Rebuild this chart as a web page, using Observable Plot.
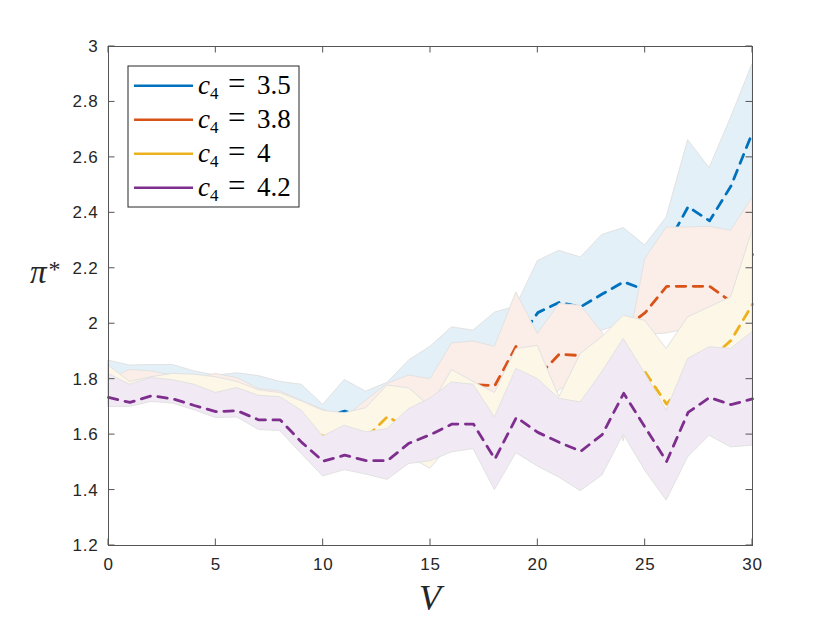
<!DOCTYPE html>
<html><head><meta charset="utf-8">
<script src="https://cdn.jsdelivr.net/npm/d3@7"></script>
<script src="https://cdn.jsdelivr.net/npm/@observablehq/plot@0.6"></script>
<style>body{margin:0;background:#fff}</style>
</head><body><div id="chart"></div>
<script>
// ---- data ----
const V = [0,1,2,3,4,5,6,7,8,9,10,11,12,13,14,15,16,17,18,19,20,21,22,23,24,25,26,27,28,29,30];

const blueMean = [1.80,1.79,1.79,1.78,1.77,1.76,1.76,1.72,1.72,1.68,1.66,1.685,1.66,1.70,1.74,1.75,1.82,1.83,1.84,1.93,2.04,2.077,2.061,2.107,2.151,2.122,2.28,2.422,2.371,2.497,2.69];
const blueLow  = [1.72,1.71,1.72,1.72,1.70,1.68,1.68,1.64,1.64,1.58,1.52,1.52,1.52,1.52,1.56,1.58,1.64,1.66,1.58,1.72,1.75,1.90,1.95,1.975,2.00,2.05,2.10,2.15,2.15,2.20,2.30];
const blueHigh = [1.867,1.849,1.851,1.851,1.828,1.813,1.821,1.811,1.790,1.780,1.707,1.797,1.755,1.787,1.867,1.917,1.987,1.975,2.040,2.062,2.226,2.263,2.239,2.320,2.345,2.282,2.383,2.662,2.561,2.743,2.936];

const redMean = [1.78,1.76,1.77,1.76,1.75,1.72,1.73,1.70,1.69,1.65,1.60,1.62,1.63,1.66,1.68,1.70,1.74,1.78,1.777,1.92,1.81,1.89,1.885,1.93,1.98,2.04,2.135,2.135,2.135,2.08,2.25];
const redLow  = [1.72,1.71,1.73,1.72,1.70,1.67,1.67,1.63,1.63,1.56,1.50,1.50,1.50,1.49,1.53,1.55,1.60,1.62,1.50,1.70,1.65,1.76,1.80,1.85,1.575,1.96,1.965,1.98,1.99,1.95,2.05];
const redHigh = [1.80,1.833,1.828,1.813,1.80,1.819,1.804,1.765,1.756,1.722,1.69,1.66,1.722,1.783,1.813,1.800,1.929,1.936,1.917,2.113,1.963,2.071,2.065,1.969,1.83,2.233,2.347,2.347,2.35,2.335,2.455];

const yellowMean = [1.77,1.74,1.73,1.75,1.73,1.71,1.71,1.68,1.68,1.62,1.595,1.58,1.59,1.665,1.62,1.64,1.70,1.70,1.60,1.74,1.70,1.64,1.63,1.72,1.85,1.825,1.71,1.80,1.87,1.94,2.07];
const yellowLow  = [1.72,1.72,1.72,1.73,1.70,1.68,1.68,1.64,1.63,1.56,1.49,1.50,1.49,1.47,1.52,1.477,1.57,1.58,1.45,1.57,1.52,1.48,1.44,1.49,1.64,1.52,1.42,1.56,1.63,1.60,1.60];
const yellowHigh = [1.849,1.790,1.807,1.819,1.816,1.807,1.790,1.760,1.750,1.720,1.686,1.677,1.695,1.777,1.767,1.700,1.833,1.790,1.750,1.909,1.920,1.735,1.891,1.951,2.029,2.010,1.909,2.023,2.059,2.095,2.335];

const purpleMean = [1.734,1.716,1.740,1.729,1.705,1.683,1.686,1.653,1.653,1.572,1.504,1.526,1.506,1.506,1.569,1.600,1.638,1.638,1.512,1.662,1.608,1.572,1.540,1.600,1.749,1.626,1.503,1.680,1.734,1.708,1.729];
const purpleLow  = [1.700,1.700,1.718,1.712,1.688,1.660,1.662,1.617,1.613,1.530,1.449,1.472,1.456,1.437,1.494,1.504,1.536,1.548,1.400,1.533,1.485,1.445,1.396,1.452,1.600,1.470,1.362,1.518,1.596,1.554,1.560];
const purpleHigh = [1.819,1.780,1.804,1.796,1.780,1.750,1.768,1.740,1.735,1.686,1.593,1.632,1.608,1.620,1.692,1.730,1.788,1.780,1.662,1.837,1.800,1.729,1.716,1.825,1.945,1.820,1.686,1.873,1.915,1.909,1.969];

const legendValues = ["3.5","3.8","4","4.2"];
const lineColors = ["#0072BD","#D95319","#EDB120","#7E2F8E"];
const bandColors = ["#e4f0f8","#fbede7","#fdf7e8","#f1eaf4"];
const xTicks = [0,5,10,15,20,25,30];
const yTicks = [1.2,1.4,1.6,1.8,2.0,2.2,2.4,2.6,2.8,3.0];

const series = [
  {mean: blueMean, low: blueLow, high: blueHigh},
  {mean: redMean, low: redLow, high: redHigh},
  {mean: yellowMean, low: yellowLow, high: yellowHigh},
  {mean: purpleMean, low: purpleLow, high: purpleHigh}
];

// ---- marks ----
const marks = [];
series.forEach((s, i) => {
  const rows = V.map((v, j) => ({v, m: s.mean[j], lo: s.low[j], hi: s.high[j]}));
  marks.push(Plot.areaY(rows, {x: "v", y1: "lo", y2: "hi", fill: bandColors[i], stroke: "#e2e2e2", strokeWidth: 1}));
  marks.push(Plot.line(rows, {x: "v", y: "m", stroke: lineColors[i], strokeWidth: 2.8, strokeDasharray: "9.5,7.5"}));
});
marks.push(Plot.frame({stroke: "#555", strokeWidth: 1}));
marks.push(Plot.axisX({ticks: xTicks, tickSize: 0, tickPadding: 12, label: null, fontSize: 17, tickFormat: d => String(d)}));
marks.push(Plot.axisY({ticks: yTicks, tickSize: 0, tickPadding: 10, label: null, fontSize: 17, tickFormat: d => String(+d.toFixed(1))}));

const chart = Plot.plot({
  width: 830, height: 623,
  marginLeft: 108, marginRight: 78, marginTop: 46, marginBottom: 78,
  style: {fontFamily: "'Liberation Sans', Arial, sans-serif", fontSize: "17px", color: "#262626", background: "#fff"},
  x: {domain: [0, 30]},
  y: {domain: [1.2, 3]},
  marks
});
document.getElementById("chart").appendChild(chart);

const svg = d3.select(chart);
// larger, wider MATLAB-like tick labels (only the axis texts exist at this point)
svg.selectAll("text")
  .attr("font-size", 17)
  .style("font-size", "17px")
  .style("letter-spacing", "0.8px")
  .style("font-family", "'Liberation Sans', Arial, sans-serif");

// ---- inward ticks on all four sides (MATLAB box style) ----
const sx = chart.scale("x"), sy = chart.scale("y");
const x0 = sx.apply(0), x1 = sx.apply(30), yb = sy.apply(1.2), yt = sy.apply(3);
const tk = 6.5;
const tg = svg.append("g").attr("stroke", "#555").attr("stroke-width", 1);
xTicks.forEach(t => {
  const px = sx.apply(t);
  tg.append("line").attr("x1", px).attr("x2", px).attr("y1", yb).attr("y2", yb - tk);
  tg.append("line").attr("x1", px).attr("x2", px).attr("y1", yt).attr("y2", yt + tk);
});
yTicks.forEach(t => {
  const py = sy.apply(t);
  tg.append("line").attr("x1", x0).attr("x2", x0 + tk).attr("y1", py).attr("y2", py);
  tg.append("line").attr("x1", x1).attr("x2", x1 - tk).attr("y1", py).attr("y2", py);
});

// ---- axis labels ----
const serif = "'Liberation Serif', 'Times New Roman', serif";
svg.append("text").attr("x", (x0 + x1) / 2).attr("y", 610).attr("text-anchor", "middle")
  .attr("font-family", serif).attr("font-style", "italic").attr("font-size", 36).attr("fill", "#262626").text("V");
const yl = svg.append("text").attr("x", 30).attr("y", 283).attr("text-anchor", "start")
  .attr("font-family", serif).attr("fill", "#262626");
yl.append("tspan").attr("font-style", "italic").attr("font-size", 33).text("π");
yl.append("tspan").attr("font-size", 24).attr("dx", 2).attr("dy", -6).text("*");

// ---- legend ----
const lg = svg.append("g").attr("transform", `translate(${x0 + 20},${yt + 20})`);
lg.append("rect").attr("x", 0).attr("y", 0).attr("width", 171).attr("height", 141)
  .attr("fill", "#fff").attr("stroke", "#262626").attr("stroke-width", 1);
legendValues.forEach((val, i) => {
  const cy = 19.7 + i * 34;
  lg.append("line").attr("x1", 6).attr("x2", 65).attr("y1", cy).attr("y2", cy)
    .attr("stroke", lineColors[i]).attr("stroke-width", 2.6);
  const t = lg.append("text").attr("x", 70).attr("y", cy + 8.3).attr("text-anchor", "start")
    .attr("font-family", serif).attr("font-size", 27).attr("fill", "#000");
  t.append("tspan").attr("font-style", "italic").text("c");
  t.append("tspan").attr("font-size", 17).attr("dy", 4.5).text("4");
  t.append("tspan").attr("x", 100).attr("dy", -4.5).attr("font-size", 31).text("=");
  t.append("tspan").attr("x", 129).text(val);
});
</script>
</body></html>
